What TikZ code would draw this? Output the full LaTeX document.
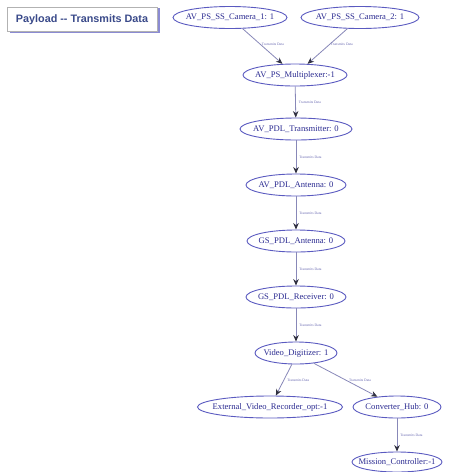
\documentclass[tikz,border=0pt]{standalone}
\usepackage{fontspec}
\setmainfont{Liberation Serif}
\newfontfamily\titlefont{Liberation Sans}
\usetikzlibrary{arrows.meta,shapes.geometric}
\definecolor{nodeline}{HTML}{5A5AC0}
\definecolor{nodetext}{HTML}{2A2A90}
\definecolor{edgeline}{HTML}{8888B8}
\definecolor{tipcol}{HTML}{303040}
\definecolor{titletext}{HTML}{3A4A8A}
\tikzset{
  ell/.style={ellipse, draw=nodeline, line width=0.9pt, text=nodetext, inner sep=0pt,
    font=\fontsize{8.6}{10}\selectfont, minimum height=22,
    execute at begin node=\hbox to 0pt\bgroup\hss, execute at end node=\hss\egroup},
  flow/.style={draw=edgeline, line width=0.8pt, -{Stealth[length=6.5pt,width=5.5pt,color=tipcol]}},
  elab/.style={font=\fontsize{3.6}{4}\selectfont, text=nodetext!70, inner sep=1pt},
}
\begin{document}
\begin{tikzpicture}[x=1pt,y=-1pt]
\useasboundingbox (0,0) rectangle (450,472);
% title box
\fill[nodeline!70] (10,8) rectangle (160,33);
\node[draw=gray!60, fill=white, line width=0.6pt, minimum width=150, minimum height=24, inner sep=0pt,
  font=\titlefont\bfseries\fontsize{10.8}{12}\selectfont, text=titletext] (title) at (82,19.5) {Payload -- Transmits Data};
% nodes
\node[ell, minimum width=114] (cam1) at (230,17.5) {AV\_PS\_SS\_Camera\_1: 1};
\node[ell, minimum width=118] (cam2) at (360,17.5) {AV\_PS\_SS\_Camera\_2: 1};
\node[ell, minimum width=104] (mux) at (295,75) {AV\_PS\_Multiplexer:-1};
\node[ell, minimum width=112] (tx) at (296,129) {AV\_PDL\_Transmitter: 0};
\node[ell, minimum width=100] (ava) at (296,185) {AV\_PDL\_Antenna: 0};
\node[ell, minimum width=98] (gsa) at (296,241) {GS\_PDL\_Antenna: 0};
\node[ell, minimum width=100] (rx) at (296,297) {GS\_PDL\_Receiver: 0};
\node[ell, minimum width=82] (dig) at (296,353) {Video\_Digitizer: 1};
\node[ell, minimum width=145] (ext) at (270,407) {External\_Video\_Recorder\_opt:-1};
\node[ell, minimum width=88] (hub) at (397,407) {Converter\_Hub: 0};
\node[ell, minimum width=90, minimum height=20] (mc) at (397,462) {Mission\_Controller:-1};
% edges
\draw[flow] (cam1) -- (mux) node[elab, pos=0.45, anchor=west] {Transmits Data};
\draw[flow] (cam2) -- (mux) node[elab, pos=0.45, anchor=west] {Transmits Data};
\draw[flow] (mux) -- (tx) node[elab, midway, anchor=west, xshift=2pt] {Transmits Data};
\draw[flow] (tx) -- (ava) node[elab, midway, anchor=west, xshift=2pt] {Transmits Data};
\draw[flow] (ava) -- (gsa) node[elab, midway, anchor=west, xshift=2pt] {Transmits Data};
\draw[flow] (gsa) -- (rx) node[elab, midway, anchor=west, xshift=2pt] {Transmits Data};
\draw[flow] (rx) -- (dig) node[elab, midway, anchor=west, xshift=2pt] {Transmits Data};
\draw[flow] (dig.250) -- (ext) node[elab, midway, anchor=west, xshift=2pt] {Transmits Data};
\draw[flow] (dig.330) -- (hub) node[elab, midway, anchor=west, xshift=2pt] {Transmits Data};
\draw[flow] (hub) -- (mc) node[elab, midway, anchor=west, xshift=2pt] {Transmits Data};
\end{tikzpicture}
\end{document}
